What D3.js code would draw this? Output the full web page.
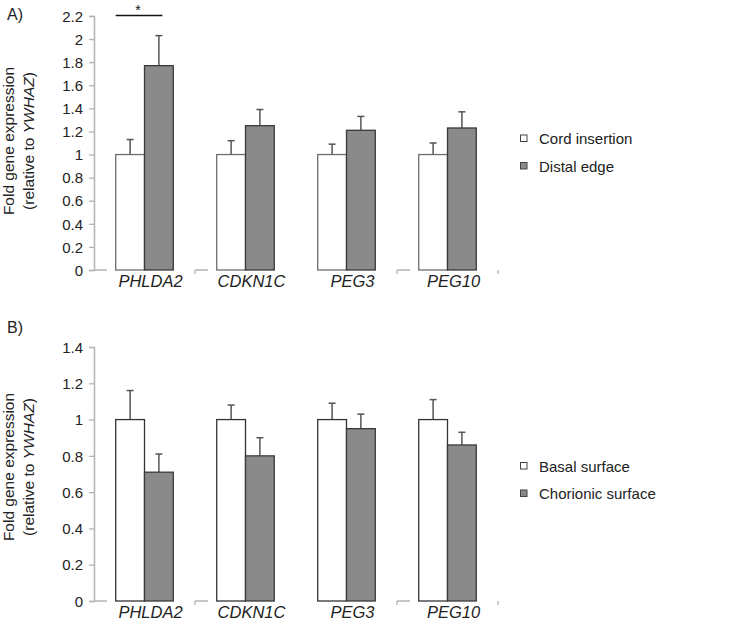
<!DOCTYPE html>
<html>
<head>
<meta charset="utf-8">
<script src="https://cdn.jsdelivr.net/npm/d3@7"></script>
<style>
  html, body { margin: 0; padding: 0; background: #fff; }
  svg { display: block; font-family: "Liberation Sans", Arial, sans-serif; }
</style>
</head>
<body>
<svg id="chart" width="735" height="634"></svg>
<script>
// ---------- data ----------
const genes = ["PHLDA2", "CDKN1C", "PEG3", "PEG10"];

const seriesA = ["Cord insertion", "Distal edge"];
const valuesA_cord = [1, 1, 1, 1];
const errorsA_cord = [0.13, 0.12, 0.09, 0.10];
const valuesA_distal = [1.77, 1.25, 1.21, 1.23];
const errorsA_distal = [0.26, 0.14, 0.12, 0.14];
const ticksA = [0, 0.2, 0.4, 0.6, 0.8, 1, 1.2, 1.4, 1.6, 1.8, 2, 2.2];
const tickLabelsA = ["0", "0.2", "0.4", "0.6", "0.8", "1", "1.2", "1.4", "1.6", "1.8", "2", "2.2"];

const seriesB = ["Basal surface", "Chorionic surface"];
const valuesB_basal = [1, 1, 1, 1];
const errorsB_basal = [0.16, 0.08, 0.09, 0.11];
const valuesB_chorionic = [0.71, 0.80, 0.95, 0.86];
const errorsB_chorionic = [0.10, 0.10, 0.08, 0.07];
const ticksB = [0, 0.2, 0.4, 0.6, 0.8, 1, 1.2, 1.4];
const tickLabelsB = ["0", "0.2", "0.4", "0.6", "0.8", "1", "1.2", "1.4"];

// ---------- drawing ----------
const svg = d3.select("#chart");
const colors = ["#ffffff", "#8a8a8a"];

function panel(opt) {
  const g = svg.append("g");
  const x0 = d3.scaleBand().domain(genes).range([94, 498]).paddingInner(0.43).paddingOuter(0.215);
  const x1 = d3.scaleBand().domain([0, 1]).range([0, x0.bandwidth()]);
  const y = d3.scaleLinear().domain([0, opt.max]).range([opt.y0, opt.yTop]);

  // y axis
  const yAxis = d3.axisLeft(y).tickValues(opt.ticks).tickSize(5).tickPadding(6)
    .tickFormat((d, i) => opt.tickLabels[i]);
  const ya = g.append("g").attr("transform", "translate(94,0)").call(yAxis);
  ya.select(".domain").attr("stroke", "#b4b4b4").attr("stroke-width", 1.5);
  ya.selectAll(".tick line").attr("stroke", "#b4b4b4").attr("stroke-width", 1.3);
  ya.selectAll(".tick text").attr("font-size", 15).attr("fill", "#222")
    .attr("font-family", "'Liberation Sans', Arial, sans-serif").attr("dy", "0.35em");

  // x axis segments (as in the reference rendering)
  const step = x0.step();
  const x0start = x0.range()[0];
  [0, 1, 3].forEach(i => {
    g.append("line").attr("x1", x0start + i * step).attr("x2", x0start + i * step + 13)
      .attr("y1", y(0)).attr("y2", y(0)).attr("stroke", "#b4b4b4").attr("stroke-width", 1.5);
  });
  [1, 3, 4].forEach(i => {
    g.append("line").attr("x1", x0start + i * step).attr("x2", x0start + i * step)
      .attr("y1", y(0)).attr("y2", y(0) + 4).attr("stroke", "#b4b4b4").attr("stroke-width", 1.3);
  });

  // bars
  const vals = [opt.v0, opt.v1];
  const errs = [opt.e0, opt.e1];
  genes.forEach((gene, gi) => {
    [0, 1].forEach(s => {
      const v = vals[s][gi];
      const bx = x0(gene) + x1(s);
      const bw = x1.bandwidth();
      const cx = bx + bw / 2;
      const top = y(v + errs[s][gi]);
      g.append("line").attr("x1", cx).attr("x2", cx).attr("y1", y(v)).attr("y2", top)
        .attr("stroke", "#555").attr("stroke-width", 1.5);
      g.append("line").attr("x1", cx - 3.5).attr("x2", cx + 3.5).attr("y1", top).attr("y2", top)
        .attr("stroke", "#555").attr("stroke-width", 1.5);
      g.append("rect").attr("x", bx).attr("y", y(v)).attr("width", bw).attr("height", y(0) - y(v))
        .attr("fill", colors[s]).attr("stroke", s === 0 ? opt.whiteStroke : "#3a3a3a").attr("stroke-width", 1.3);
    });
  });

  // x labels
  g.selectAll(".xl").data(genes).enter().append("text")
    .attr("x", d => x0(d) + x0.bandwidth() / 2 + 6).attr("y", y(0) + 16.5)
    .attr("text-anchor", "middle").attr("font-size", 16.5).attr("font-style", "italic")
    .attr("fill", "#222").text(d => d);

  // y title
  const yc = opt.titleY;
  g.append("text").attr("transform", `translate(14,${yc}) rotate(-90)`)
    .attr("text-anchor", "middle").attr("font-size", 15.5).attr("fill", "#222")
    .text("Fold gene expression");
  const t2 = g.append("text").attr("transform", `translate(34,${yc}) rotate(-90)`)
    .attr("text-anchor", "middle").attr("font-size", 15.5).attr("fill", "#222");
  t2.append("tspan").text("(relative to ");
  t2.append("tspan").attr("font-style", "italic").text("YWHAZ");
  t2.append("tspan").text(")");

  // panel label
  g.append("text").attr("x", 7).attr("y", opt.labelY).attr("font-size", 16).attr("fill", "#222").text(opt.label);

  // legend
  opt.series.forEach((name, i) => {
    const by = opt.legY + i * 27.5;
    g.append("rect").attr("x", 520.5).attr("y", by - 9).attr("width", 6.5).attr("height", 6.5)
      .attr("fill", colors[i]).attr("stroke", "#444").attr("stroke-width", 1);
    g.append("text").attr("x", 539).attr("y", by).attr("font-size", 15).attr("fill", "#222").text(name);
  });

  return { g, x0, x1, y };
}

const A = panel({
  max: 2.2, y0: 270, yTop: 16, ticks: ticksA, tickLabels: tickLabelsA,
  v0: valuesA_cord, v1: valuesA_distal, e0: errorsA_cord, e1: errorsA_distal,
  whiteStroke: "#6e6e6e", titleY: 141, label: "A)", labelY: 20,
  series: seriesA, legY: 144
});

// significance marker
const sx1 = A.x0("PHLDA2") + A.x1(0);
const sx2 = A.x0("PHLDA2") + A.x1(1) + A.x1.bandwidth() * 0.62;
A.g.append("line").attr("x1", sx1).attr("x2", sx2).attr("y1", 15.5).attr("y2", 15.5)
  .attr("stroke", "#111").attr("stroke-width", 1.5);
A.g.append("text").attr("x", (sx1 + sx2) / 2 - 1).attr("y", 15).attr("text-anchor", "middle")
  .attr("font-size", 14).attr("fill", "#111").text("*");

const B = panel({
  max: 1.4, y0: 601, yTop: 347, ticks: ticksB, tickLabels: tickLabelsB,
  v0: valuesB_basal, v1: valuesB_chorionic, e0: errorsB_basal, e1: errorsB_chorionic,
  whiteStroke: "#333", titleY: 467, label: "B)", labelY: 333,
  series: seriesB, legY: 471.5
});
</script>
</body>
</html>
